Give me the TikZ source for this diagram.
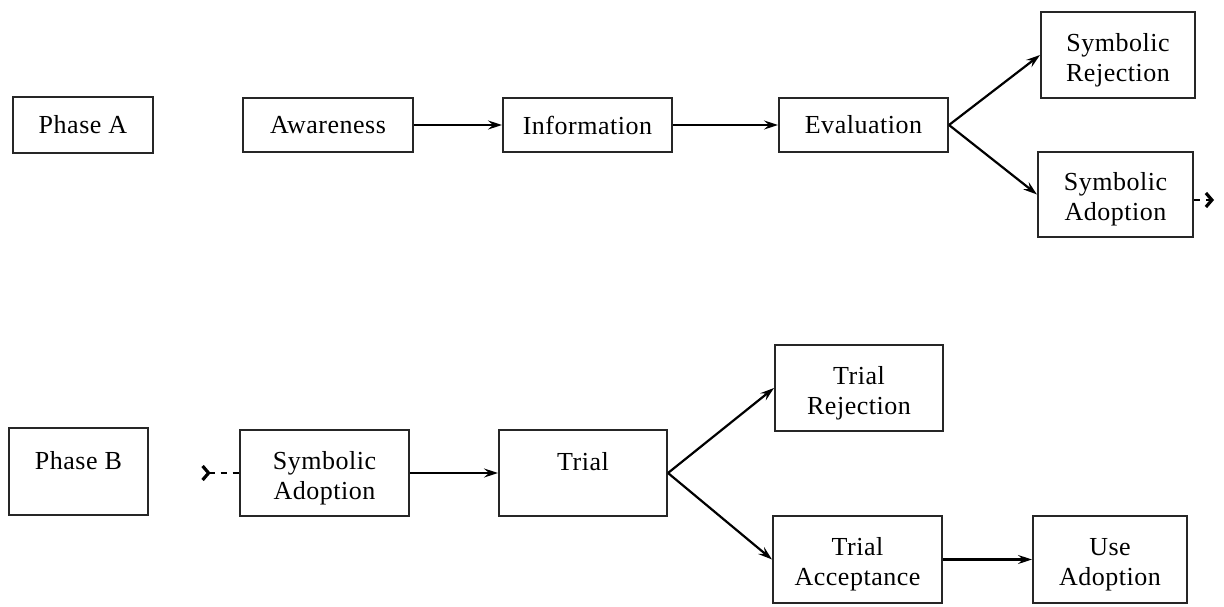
\documentclass[tikz,border=0pt]{standalone}
\usepackage{fontspec}
\setmainfont[LetterSpace=2]{Liberation Serif}
\usetikzlibrary{arrows.meta}
\newcommand\abovepad{\mbox{}\\[-2pt]}
\newcommand\toppad{\\[-7pt]\mbox{}}
\begin{document}
\begin{tikzpicture}[x=1pt,y=-1pt,
  box/.style={draw=black!85,line width=2pt,inner sep=0pt,align=center,
    font=\fontsize{26}{30}\selectfont},
  conn/.style={line width=2.2pt,-{Stealth[length=14pt,width=9pt,inset=5pt]}},
  cont/.style={line width=2.2pt,dash pattern=on 6pt off 6pt}]
\useasboundingbox[fill=white] (0,0) rectangle (1224,607);
% Phase A
\node[box,minimum width=140pt,minimum height=56pt] (phaseA) at (83,125) {Phase A};
\node[box,minimum width=170pt,minimum height=54pt] (aware) at (328,125) {Awareness};
\node[box,minimum width=169pt,minimum height=54pt] (info) at (587.5,125) {Information};
\node[box,minimum width=169pt,minimum height=54pt] (eval) at (863.5,125) {Evaluation};
\node[box,minimum width=154pt,minimum height=86pt] (symrej) at (1118,55) {\abovepad Symbolic\\Rejection};
\node[box,minimum width=155pt,minimum height=85pt] (symadA) at (1115.5,194.5) {\abovepad Symbolic\\Adoption};
\draw[conn] (aware.east) -- (info.west);
\draw[conn] (info.east) -- (eval.west);
\draw[conn] (eval.east) -- (symrej.west);
\draw[conn] (eval.east) -- (symadA.west);
\coordinate (outA) at (1214,200);
\draw[cont,-{Straight Barb[length=6pt,width=14pt,line width=3.2pt]}] (symadA.east |- outA) -- (outA);
% Phase B
\node[box,minimum width=139pt,minimum height=87pt] (phaseB) at (78.5,471.5) {Phase B\toppad};
\node[box,minimum width=169pt,minimum height=86pt] (symadB) at (324.5,473) {\abovepad Symbolic\\Adoption};
\node[box,minimum width=168pt,minimum height=86pt] (trial) at (583,473) {Trial\toppad};
\node[box,minimum width=168pt,minimum height=86pt] (trialrej) at (859,388) {\abovepad Trial\\Rejection};
\node[box,minimum width=169pt,minimum height=87pt] (trialacc) at (857.5,559.5) {\abovepad Trial\\Acceptance};
\node[box,minimum width=154pt,minimum height=87pt] (use) at (1110,559.5) {\abovepad Use\\Adoption};
\coordinate (inB) at (201,473);
\draw[cont,{Straight Barb[reversed,length=6pt,width=14pt,line width=3.2pt]}-] (inB) -- (symadB.west);
\draw[conn] (symadB.east) -- (trial.west);
\draw[conn] (trial.east) -- (trialrej.west);
\draw[conn] (trial.east) -- (trialacc.west);
\draw[conn] (trialacc.east) -- (use.west);
\end{tikzpicture}
\end{document}
